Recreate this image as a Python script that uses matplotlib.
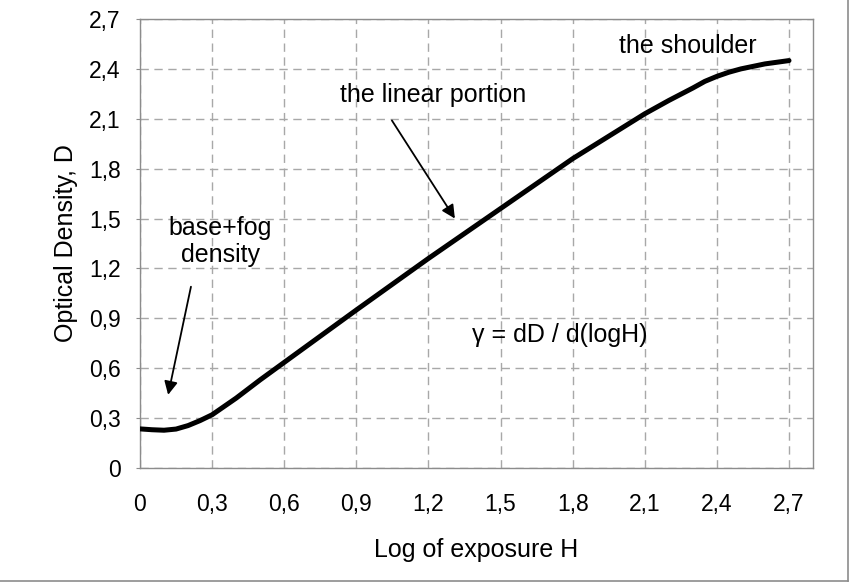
import matplotlib
matplotlib.use('Agg')
import matplotlib.pyplot as plt
from matplotlib.lines import Line2D
from matplotlib.ticker import FuncFormatter

plt.rcParams['font.family'] = ['Liberation Sans', 'DejaVu Sans']

# Characteristic curve
logH = [0, 0.05, 0.1, 0.15, 0.2, 0.25, 0.3, 0.4, 0.5, 0.6, 0.9, 1.2,
        1.5, 1.8, 2.0, 2.1, 2.2, 2.3, 2.35, 2.4, 2.45, 2.5, 2.6, 2.7]
density = [0.235, 0.23, 0.227, 0.234, 0.255, 0.285, 0.32, 0.42, 0.53, 0.635,
           0.95, 1.26, 1.56, 1.86, 2.04, 2.13, 2.21, 2.285, 2.325, 2.355,
           2.38, 2.40, 2.43, 2.45]

ticks = [0, 0.3, 0.6, 0.9, 1.2, 1.5, 1.8, 2.1, 2.4, 2.7]

fig = plt.figure(figsize=(8.5, 5.83), dpi=100)
ax = fig.add_axes([0.1647, 0.1973, 0.7918, 0.7701])

ax.plot(logH, density, color='black', lw=3.6, solid_capstyle='round',
        solid_joinstyle='round', zorder=3)

ax.set_xlim(0, 2.8)
ax.set_ylim(0, 2.7)
ax.set_xticks(ticks)
ax.set_yticks(ticks)

comma = FuncFormatter(lambda v, p: ('%g' % round(v, 1)).replace('.', ','))
ax.xaxis.set_major_formatter(comma)
ax.yaxis.set_major_formatter(comma)

ax.grid(True, color='#a8a8a8', linestyle=(0, (6, 4)), lw=1)
for s in ax.spines.values():
    s.set_color('#8c8c8c')
    s.set_linewidth(1)

ax.tick_params(axis='x', length=0, pad=18, labelsize=16.5)
ax.tick_params(axis='y', length=3, color='#8c8c8c', pad=11, labelsize=16.5)

ax.set_xlabel('Log of exposure H', fontsize=18, labelpad=16)
ax.set_ylabel('Optical Density, D', fontsize=18, labelpad=8)

# Annotations
arrow = dict(arrowstyle='-|>', color='black', lw=1.3, mutation_scale=20,
             shrinkA=0, shrinkB=0)
ax.text(0.333, 1.36, 'base+fog\ndensity', fontsize=18, ha='center', va='center',
        linespacing=1.15)
ax.annotate('', xy=(0.117, 0.44), xytext=(0.212, 1.09), arrowprops=arrow)
ax.text(1.219, 2.243, 'the linear portion', fontsize=18, ha='center', va='center')
ax.annotate('', xy=(1.31, 1.50), xytext=(1.048, 2.09), arrowprops=arrow)
ax.text(2.28, 2.54, 'the shoulder', fontsize=18, ha='center', va='center')
ax.text(1.747, 0.80, 'γ = dD / d(logH)', fontsize=18, ha='center', va='center')

# thin border on the right and bottom of the picture
fig.add_artist(Line2D([0.9976, 0.9976], [0.0034, 1], color='#8c8c8c', lw=1.2))
fig.add_artist(Line2D([0, 0.9976], [0.0034, 0.0034], color='#8c8c8c', lw=1.2))

fig.savefig('out.png', dpi=100)
